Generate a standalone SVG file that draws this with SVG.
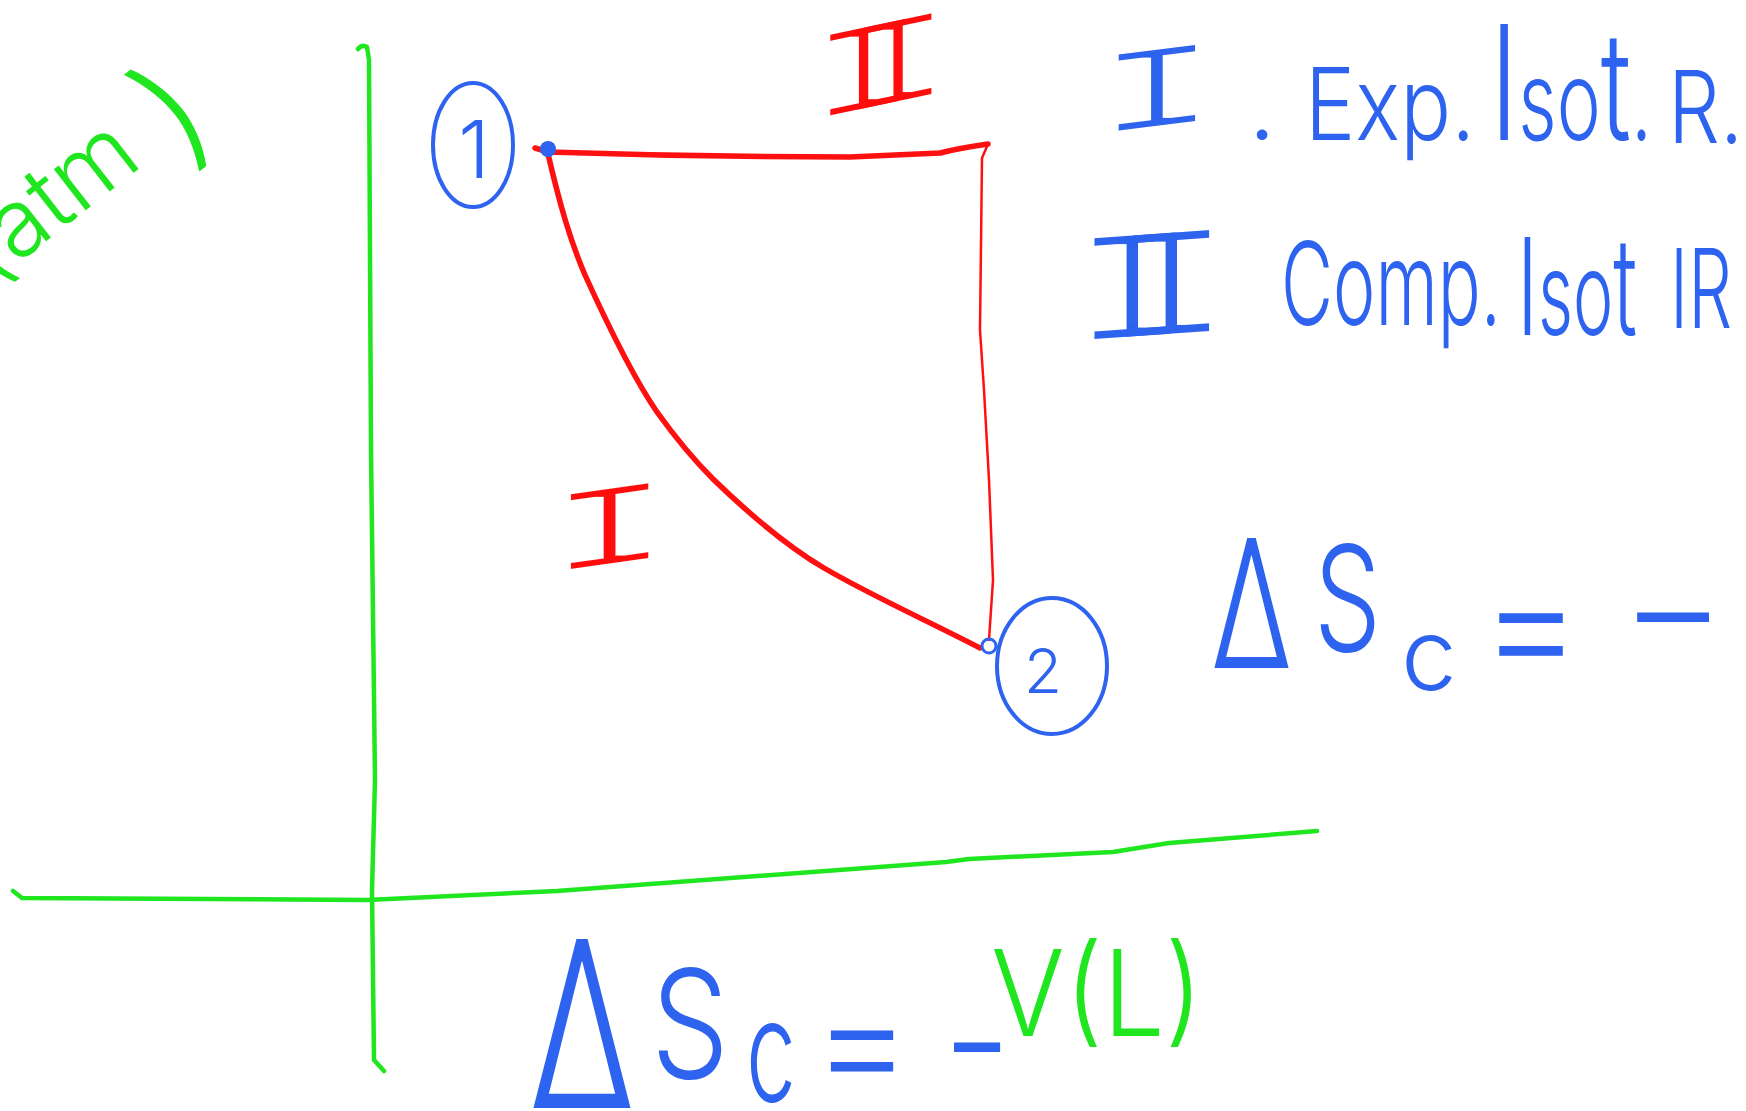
<svg xmlns="http://www.w3.org/2000/svg" width="1746" height="1111" viewBox="0 0 1746 1111">
<style>
.g{stroke:#1fe61f;fill:none;stroke-width:4.5;stroke-linecap:round;stroke-linejoin:round}
.r{stroke:#ff1010;fill:none;stroke-width:5.5;stroke-linecap:round;stroke-linejoin:round}
.bl{stroke:#2d63ee;fill:none;stroke-width:4;stroke-linecap:round;stroke-linejoin:round}
.tb{fill:#2d63ee}
.tr{fill:#ff1010}
.tg{fill:#1fe61f}
.hw{font-family:Inter,"Noto Sans",sans-serif;font-weight:300}
.rn{font-family:"Liberation Mono","DejaVu Sans Mono",monospace;font-weight:400}
</style>
<defs>
<filter id="thin" x="-20%" y="-20%" width="140%" height="140%"><feMorphology operator="erode" radius="3.5 1.2"/></filter>
<filter id="thin2" x="-20%" y="-20%" width="140%" height="140%"><feMorphology operator="erode" radius="4 1.8"/></filter>
</defs>
<rect width="1746" height="1111" fill="#ffffff"/>
<g id="axes">
<path class="g" d="M358,49 Q362,44 367,47 L369,60 L371,450 L375,780 L372,890 L374,1060 L384,1071"/>
<path class="g" d="M13,891 L22,898 L367,900 L557,891 L946,862 L969,859 L1113,852 L1169,843 L1317,831"/>
<text class="tg hw" transform="translate(-10,285) rotate(-38)" font-size="95">(atm<tspan font-size="135" dx="31" dy="21">)</tspan></text>
</g>
<g id="connectors">
<path class="r" d="M535,148 L548,152 Q700,157 850,157 L940,153 Q960,148 988,144"/>
<path class="r" style="stroke-width:2.5" d="M988,144 L982,158 L980,330 L984,390 L989,480 L993,580 L989,640"/>
<path class="r" d="M548,154 C560,205 570,240 585,275 C610,330 635,380 657,412 C675,437 692,458 713,479 C745,510 785,545 824,568 C870,595 930,622 980,648"/>
</g>
<g id="node1">
<ellipse class="bl" cx="473" cy="145" rx="40" ry="62"/>
<text class="tb hw" x="474" y="178" font-size="80" text-anchor="middle">1</text>
<circle cx="548" cy="149" r="8" fill="#2d63ee"/>
</g>
<g id="node2">
<ellipse class="bl" cx="1052" cy="666" rx="55" ry="68"/>
<text class="tb hw" x="1043" y="693" font-size="62" text-anchor="middle">2</text>
<circle class="bl" style="stroke-width:3" cx="989" cy="646" r="7"/>
</g>
<g id="label-II" filter="url(#thin)">
<text class="tr rn" transform="translate(808,122) skewY(-12) scale(1.45,1)" font-size="128" letter-spacing="-53">II</text>
</g>
<g id="label-I" filter="url(#thin)">
<text class="tr rn" transform="translate(546,574) skewY(-8) scale(1.8,1)" font-size="118">I</text>
</g>
<g id="legend">
<g filter="url(#thin)">
<text class="tb rn" transform="translate(1094,135) skewY(-7) scale(1.75,1)" font-size="120">I</text>
</g>
<text class="tb hw" x="1248" y="139" font-size="100">.</text>
<text class="tb hw" x="1305" y="140" font-size="100" textLength="170" lengthAdjust="spacingAndGlyphs">Exp.</text>
<text class="tb hw" x="1490" y="140" font-size="110" textLength="162" lengthAdjust="spacingAndGlyphs"><tspan font-size="160">I</tspan>so<tspan font-size="150">t</tspan>.</text>
<text class="tb hw" x="1668" y="143" font-size="100" textLength="75" lengthAdjust="spacingAndGlyphs">R.</text>
<g filter="url(#thin2)">
<text class="tb rn" transform="translate(1070,343) skewY(-4) scale(1.3,1)" font-size="160" letter-spacing="-66">II</text>
</g>
<text class="tb hw" x="1281" y="325" font-size="115" textLength="220" lengthAdjust="spacingAndGlyphs">Comp.</text>
<text class="tb hw" x="1517" y="335" font-size="115" textLength="120" lengthAdjust="spacingAndGlyphs"><tspan font-size="135">I</tspan>so<tspan font-size="135">t</tspan></text>
<text class="tb hw" x="1670" y="328" font-size="110" textLength="62" lengthAdjust="spacingAndGlyphs">IR</text>
</g>
<g id="eq-right">
<text class="tb hw" x="1211" y="668" font-size="179" textLength="81" lengthAdjust="spacingAndGlyphs">Δ</text>
<text class="tb hw" x="1314" y="651" font-size="146" textLength="67" lengthAdjust="spacingAndGlyphs">S</text>
<text class="tb hw" x="1401" y="690" font-size="100">c</text>
<text class="tb hw" x="1480" y="680" font-size="160" textLength="102" lengthAdjust="spacingAndGlyphs">=</text>
<text class="tb hw" x="1620" y="660" font-size="150" textLength="106" lengthAdjust="spacingAndGlyphs">−</text>
</g>
<g id="eq-bottom">
<text class="tb hw" x="529" y="1108" font-size="232" textLength="106" lengthAdjust="spacingAndGlyphs">Δ</text>
<text class="tb hw" x="651" y="1078" font-size="150" textLength="78" lengthAdjust="spacingAndGlyphs">S</text>
<text class="tb hw" x="746" y="1102" font-size="143" textLength="50" lengthAdjust="spacingAndGlyphs">c</text>
<text class="tb hw" x="812" y="1095" font-size="155" textLength="100" lengthAdjust="spacingAndGlyphs">=</text>
<text class="tb hw" x="943" y="1090" font-size="150" textLength="68" lengthAdjust="spacingAndGlyphs">−</text>
<text class="tg hw" x="991" y="1036" font-size="120" textLength="212" lengthAdjust="spacingAndGlyphs">V(L)</text>
</g>
</svg>
